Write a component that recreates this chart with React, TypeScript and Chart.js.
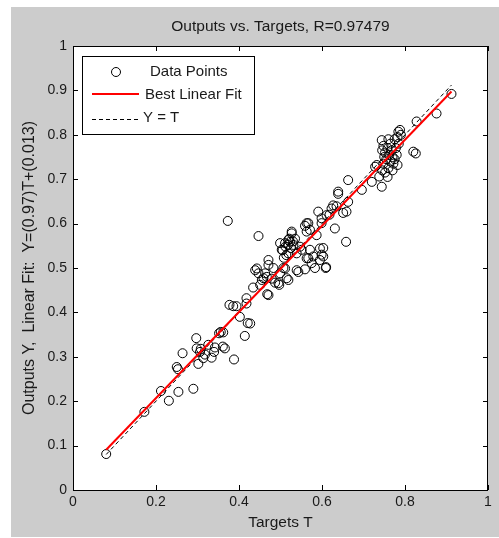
import { useEffect, useRef } from 'react';
import { Chart, registerables } from 'chart.js';
Chart.register(...registerables);

const titleText = 'Outputs vs. Targets, R=0.97479';
const xTitle = 'Targets T';
const yTitle = 'Outputs Y,  Linear Fit:  Y=(0.97)T+(0.013)';
const legendLabels = ['Data Points', 'Best Linear Fit', 'Y = T'];
const xTickLabels = ['0', '0.2', '0.4', '0.6', '0.8', '1'];
const yTickLabels = ['0', '0.1', '0.2', '0.3', '0.4', '0.5', '0.6', '0.7', '0.8', '0.9', '1'];
const fitSlope = 0.97;
const fitIntercept = 0.013;

const targets = [
  0.080, 0.172, 0.212, 0.231, 0.254, 0.290, 0.250, 0.253, 0.264, 0.297,
  0.302, 0.298, 0.306, 0.308, 0.314, 0.318, 0.326, 0.334, 0.340, 0.342,
  0.352, 0.356, 0.362, 0.361, 0.366, 0.388, 0.373, 0.377, 0.386, 0.394,
  0.402, 0.414, 0.421, 0.427, 0.418, 0.418,
  0.434, 0.439, 0.443, 0.447, 0.447, 0.451, 0.455, 0.459, 0.463, 0.467,
  0.468, 0.471, 0.471, 0.471, 0.479, 0.483, 0.487, 0.495, 0.497, 0.499,
  0.499, 0.503, 0.505, 0.507, 0.508, 0.511, 0.511, 0.512, 0.514, 0.515,
  0.518, 0.519, 0.519, 0.519, 0.521, 0.523, 0.525, 0.527, 0.527, 0.530,
  0.531, 0.535, 0.539, 0.539, 0.543, 0.547, 0.551, 0.559, 0.559, 0.563,
  0.563, 0.563, 0.567, 0.567, 0.571, 0.571, 0.575, 0.579, 0.583, 0.587,
  0.591, 0.595, 0.595, 0.599, 0.599, 0.599, 0.603, 0.603, 0.609, 0.610,
  0.611, 0.618, 0.623, 0.627, 0.631, 0.635, 0.639, 0.639, 0.651, 0.658,
  0.659, 0.663, 0.663,
  0.696, 0.720, 0.728, 0.732, 0.738, 0.744, 0.744, 0.745, 0.745, 0.748,
  0.748, 0.750, 0.752, 0.752, 0.755, 0.758, 0.758, 0.760, 0.760, 0.762,
  0.765, 0.765, 0.768, 0.770, 0.770, 0.772, 0.775, 0.775, 0.778, 0.780,
  0.782, 0.782, 0.784, 0.785, 0.788, 0.790, 0.820, 0.826, 0.828, 0.876,
  0.912,
];

const outputs = [
  0.081, 0.176, 0.223, 0.201, 0.221, 0.228, 0.277, 0.272, 0.308, 0.342,
  0.284, 0.319, 0.311, 0.318, 0.297, 0.305, 0.327, 0.298, 0.311, 0.321,
  0.353, 0.356, 0.355, 0.323, 0.319, 0.294, 0.606, 0.417, 0.414, 0.414,
  0.390, 0.347, 0.376, 0.375, 0.420, 0.432,
  0.456, 0.495, 0.499, 0.488, 0.572, 0.462, 0.473, 0.477, 0.488, 0.480,
  0.441, 0.439, 0.507, 0.518, 0.476, 0.500, 0.467, 0.466, 0.462, 0.488,
  0.556, 0.541, 0.540, 0.500, 0.523, 0.499, 0.556, 0.548, 0.529, 0.477,
  0.552, 0.473, 0.533, 0.563, 0.566, 0.559, 0.545, 0.578, 0.582, 0.560,
  0.552, 0.566, 0.533, 0.495, 0.491, 0.548, 0.541, 0.497, 0.595, 0.522,
  0.582, 0.601, 0.522, 0.601, 0.541, 0.586, 0.511, 0.526, 0.500, 0.574,
  0.627, 0.518, 0.544, 0.530, 0.601, 0.612, 0.526, 0.545, 0.500, 0.502,
  0.619, 0.620, 0.634, 0.641, 0.589, 0.639, 0.667, 0.672, 0.624, 0.559,
  0.627, 0.649, 0.698,
  0.676, 0.694, 0.728, 0.732, 0.706, 0.683, 0.788, 0.720, 0.765, 0.735,
  0.775, 0.750, 0.715, 0.760, 0.745, 0.705, 0.770, 0.725, 0.790, 0.755,
  0.740, 0.780, 0.765, 0.720, 0.750, 0.735, 0.745, 0.790, 0.770, 0.755,
  0.732, 0.795, 0.807, 0.780, 0.811, 0.800, 0.762, 0.758, 0.830, 0.848,
  0.892,
];

const FONT = '"Liberation Sans", Arial, Helvetica, sans-serif';
const TEXT = '#1a1a1a';
const POINT_R = 4.5;

const framePlugin = {
  id: 'matlabFrame',
  beforeDraw(chart: any) {
    const { ctx, chartArea: a, width, height } = chart;
    ctx.save();
    ctx.fillStyle = '#ffffff';
    ctx.fillRect(0, 0, width, height);
    ctx.fillStyle = '#cccccc';
    ctx.fillRect(11, 7, width - 11, height - 8);
    ctx.fillStyle = '#ffffff';
    ctx.fillRect(a.left, a.top, a.right - a.left, a.bottom - a.top);
    ctx.restore();
  },
  afterDraw(chart: any) {
    const { ctx, chartArea: a, scales } = chart;
    const xs = scales.x;
    const ys = scales.y;
    ctx.save();
    ctx.strokeStyle = '#000';
    ctx.lineWidth = 1;
    ctx.setLineDash([]);
    ctx.strokeRect(a.left + 0.5, a.top + 0.5, a.right - a.left - 1, a.bottom - a.top);
    const tl = 5;
    ctx.beginPath();
    xTickLabels.forEach((l) => {
      const px = Math.round(xs.getPixelForValue(parseFloat(l))) + 0.5;
      ctx.moveTo(px, a.bottom);
      ctx.lineTo(px, a.bottom - tl);
      ctx.moveTo(px, a.top);
      ctx.lineTo(px, a.top + tl);
    });
    yTickLabels.forEach((l) => {
      const py = Math.round(ys.getPixelForValue(parseFloat(l))) + 0.5;
      ctx.moveTo(a.left, py);
      ctx.lineTo(a.left + tl, py);
      ctx.moveTo(a.right, py);
      ctx.lineTo(a.right - tl, py);
    });
    ctx.stroke();
    ctx.fillStyle = TEXT;
    ctx.font = `15.5px ${FONT}`;
    ctx.textAlign = 'center';
    ctx.textBaseline = 'middle';
    ctx.fillText(titleText, (a.left + a.right) / 2, a.top - 19);
    const lx = a.left + 9;
    const ly = a.top + 10;
    ctx.fillStyle = '#fff';
    ctx.fillRect(lx, ly, 173, 79);
    ctx.strokeStyle = '#000';
    ctx.strokeRect(lx + 0.5, ly + 0.5, 172, 78);
    ctx.beginPath();
    ctx.arc(lx + 34, ly + 16, POINT_R, 0, Math.PI * 2);
    ctx.stroke();
    ctx.strokeStyle = '#ff0000';
    ctx.lineWidth = 2;
    ctx.beginPath();
    ctx.moveTo(lx + 10, ly + 38);
    ctx.lineTo(lx + 57, ly + 38);
    ctx.stroke();
    ctx.strokeStyle = '#000';
    ctx.lineWidth = 1;
    ctx.setLineDash([4, 3]);
    ctx.beginPath();
    ctx.moveTo(lx + 10, ly + 63.5);
    ctx.lineTo(lx + 57, ly + 63.5);
    ctx.stroke();
    ctx.setLineDash([]);
    ctx.fillStyle = TEXT;
    ctx.font = `15px ${FONT}`;
    ctx.textAlign = 'left';
    ctx.textBaseline = 'middle';
    ctx.fillText(legendLabels[0], lx + 68, ly + 16);
    ctx.fillText(legendLabels[1], lx + 63, ly + 39);
    ctx.fillText(legendLabels[2], lx + 61, ly + 62);
    ctx.restore();
  },
};

export default function App() {
  const ref = useRef<HTMLCanvasElement | null>(null);
  useEffect(() => {
    if (!ref.current) return;
    const tMin = Math.min(...targets);
    const tMax = Math.max(...targets);
    const points = targets.map((t, i) => ({ x: t, y: outputs[i] }));
    const chart = new Chart(ref.current, {
      type: 'scatter',
      data: {
        datasets: [
          {
            type: 'line',
            label: legendLabels[1],
            data: [
              { x: tMin, y: fitSlope * tMin + fitIntercept },
              { x: tMax, y: fitSlope * tMax + fitIntercept },
            ],
            borderColor: '#ff0000',
            borderWidth: 2,
            pointRadius: 0,
            fill: false,
            order: 1,
          } as any,
          {
            type: 'line',
            label: legendLabels[2],
            data: [
              { x: tMin, y: tMin },
              { x: tMax, y: tMax },
            ],
            borderColor: '#000000',
            borderWidth: 1,
            borderDash: [4, 3],
            pointRadius: 0,
            fill: false,
            order: 2,
          } as any,
          {
            type: 'scatter',
            label: legendLabels[0],
            data: points,
            pointStyle: 'circle',
            pointRadius: POINT_R,
            borderWidth: 1,
            borderColor: '#000000',
            backgroundColor: 'rgba(0,0,0,0)',
            order: 3,
          },
        ],
      },
      options: {
        responsive: false,
        animation: false,
        devicePixelRatio: 1,
        layout: { padding: { left: 0, right: 11, top: 46, bottom: 0 } },
        plugins: { legend: { display: false }, tooltip: { enabled: false }, title: { display: false } },
        scales: {
          x: {
            type: 'linear',
            min: 0,
            max: 1,
            grid: { display: false, drawTicks: false },
            border: { display: false },
            ticks: {
              stepSize: 0.2,
              color: TEXT,
              font: { family: FONT, size: 14 },
              padding: 4,
              callback: (_v: any, i: number) => xTickLabels[i],
            },
            title: { display: true, text: xTitle, color: TEXT, font: { family: FONT, size: 15.5 }, padding: { top: 0, bottom: 6 } },
            afterFit: (s: any) => { s.height = 48; },
          },
          y: {
            type: 'linear',
            min: 0,
            max: 1,
            grid: { display: false, drawTicks: false },
            border: { display: false },
            ticks: {
              stepSize: 0.1,
              color: TEXT,
              font: { family: FONT, size: 14 },
              padding: 6,
              callback: (_v: any, i: number) => yTickLabels[i],
            },
            title: { display: true, text: yTitle, color: TEXT, font: { family: FONT, size: 16 }, padding: { top: 20, bottom: 0 } },
            afterFit: (s: any) => { s.width = 73; },
          },
        },
      },
      plugins: [framePlugin],
    });
    return () => chart.destroy();
  }, []);
  return (
    <div style={{ position: 'absolute', left: 0, top: 0, width: 499, height: 538 }}>
      <canvas ref={ref} width={499} height={538} style={{ display: 'block' }} />
    </div>
  );
}
